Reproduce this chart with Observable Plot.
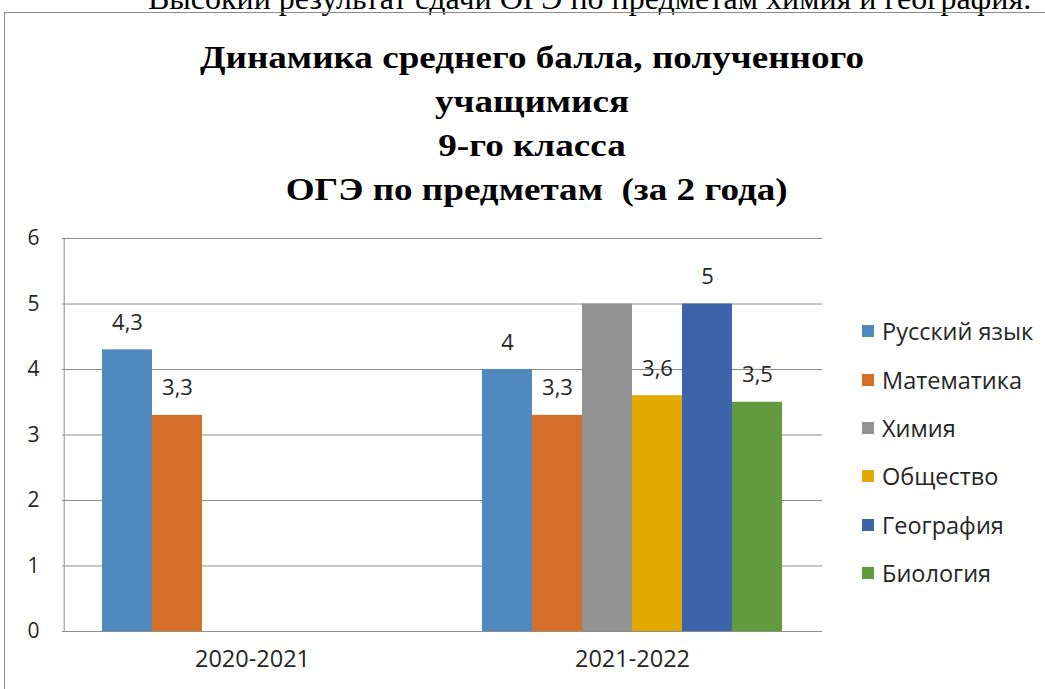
<!DOCTYPE html>
<html><head><meta charset="utf-8">
<script src="https://cdn.jsdelivr.net/npm/d3@7"></script>
<script src="https://cdn.jsdelivr.net/npm/@observablehq/plot@0.6"></script>
<style>
body{margin:0;background:#fff;width:1045px;height:689px;overflow:hidden;position:relative;font-family:"Open Sans",sans-serif;}
#cut{position:absolute;left:148px;top:-18px;font:32px/32px "Liberation Serif",serif;white-space:nowrap;color:#000}
#box{position:absolute;left:4px;top:12px;width:1100px;height:800px;border:1px solid #8a8a8a;}
#title{position:absolute;left:0;width:1064px;top:35px;text-align:center;font:bold 32px/44px "Liberation Serif",serif;color:#000;white-space:pre;transform:scaleX(1.16);transform-origin:532px 0}
#chart{position:absolute;left:0;top:210px}
#legend{position:absolute;left:862px;top:307px}
.item{height:48.4px;display:flex;align-items:center;font-size:23.5px;color:#262626}
.sw{width:12px;height:12px;margin-right:8px}
</style></head>
<body>
<div id="cut">Высокий результат сдачи ОГЭ по предметам химия и география.</div>
<div id="box"></div>
<div id="title">Динамика среднего балла, полученного
учащимися
9-го класса
 ОГЭ по предметам  (за 2 года)</div>
<div id="chart"></div>
<div id="legend"></div>
<script>
const years = ["2020-2021", "2021-2022"];
const subjects = ["Русский язык", "Математика", "Химия", "Общество", "География", "Биология"];
const colors = ["#4f89be", "#d56f2a", "#929292", "#e2a900", "#3d63ab", "#629b3e"];
const scores2020 = [4.3, 3.3, null, null, null, null];
const scores2021 = [4, 3.3, 5, 3.6, 5, 3.5];
const labels2020 = ["4,3", "3,3", null, null, null, null];
const labels2021 = ["4", "3,3", null, "3,6", "5", "3,5"];
const yTicks = [0, 1, 2, 3, 4, 5, 6];

const rows = [];
[[scores2020, labels2020], [scores2021, labels2021]].forEach(([vals, labs], i) => {
  vals.forEach((v, j) => { if (v != null) rows.push({year: years[i], subject: subjects[j], value: v, label: labs[j]}); });
});

const chart = Plot.plot({
  width: 1045, height: 470,
  marginTop: 28, marginBottom: 49, marginLeft: 62, marginRight: 223,
  fx: {domain: years, paddingInner: 0.2, paddingOuter: 0.1, label: null, axis: null},
  x: {domain: subjects, padding: 0, axis: null},
  y: {domain: [0, 6], label: null, axis: null},
  color: {domain: subjects, range: colors},
  style: {fontFamily: "Open Sans", color: "#262626", background: "transparent"},
  marks: [
    Plot.ruleY(yTicks.filter(t => t > 0), {stroke: "#8c8c8c", strokeOpacity: 1, insetLeft: -38, insetRight: -38}),
    Plot.ruleX(years.slice(0, 1), {fx: d => d, x: () => subjects[0], y1: 0, y2: 6, dx: -63.3, stroke: "#8c8c8c"}),
    Plot.barY(rows, {fx: "year", x: "subject", y: "value", fill: "subject"}),
    Plot.ruleY([0], {stroke: "#8c8c8c", insetLeft: -38, insetRight: -38}),
    Plot.text(rows.filter(d => d.label), {fx: "year", x: "subject", y: "value", text: "label", dy: -27, fontSize: 22, fill: "#262626"}),
    Plot.axisY({ticks: yTicks, tickFormat: d => String(d), tickSize: 0, tickPadding: 0, dx: -61, fontSize: 21, label: null, fill: "#262626"}),
    Plot.axisFx({anchor: "bottom", tickSize: 0, tickPadding: 19, fontSize: 23.5, label: null, fill: "#262626"})
  ]
});
document.getElementById("chart").append(chart);

const legend = document.getElementById("legend");
subjects.forEach((s, i) => {
  const it = document.createElement("div");
  it.className = "item";
  it.innerHTML = `<span class="sw" style="background:${colors[i]}"></span><span>${s}</span>`;
  legend.append(it);
});
</script>
</body></html>
